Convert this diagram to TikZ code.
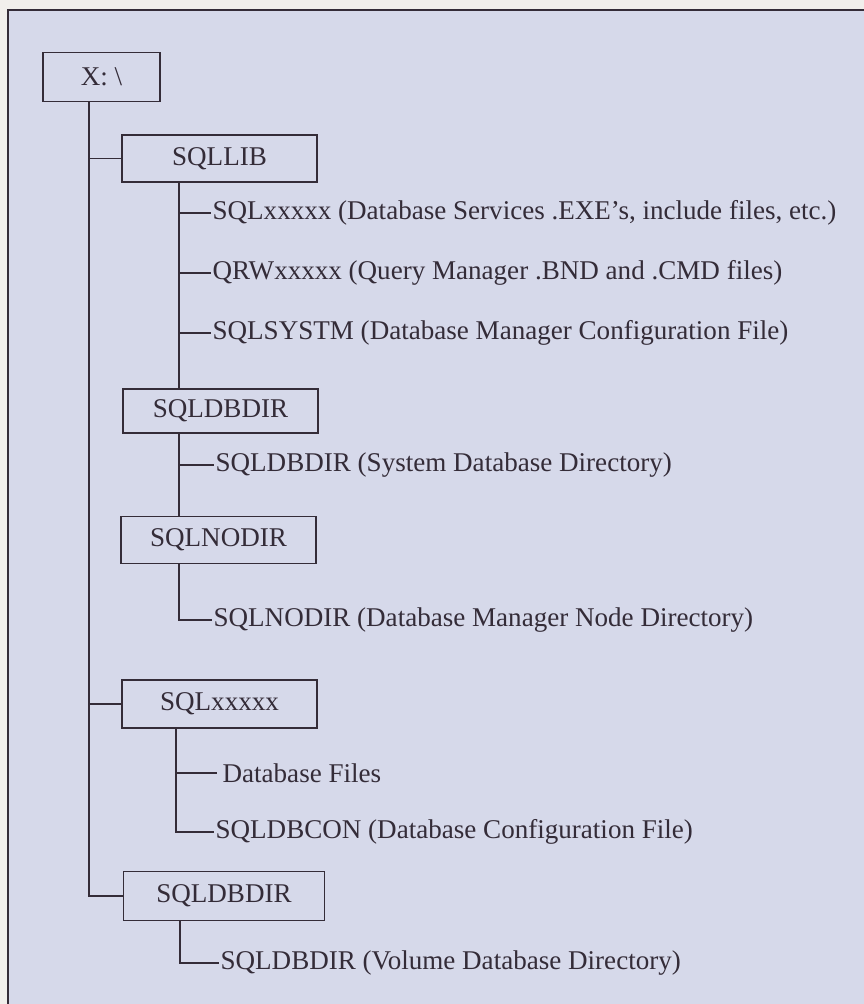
\documentclass[tikz,border=0pt]{standalone}
\usepackage{fontspec}
\setmainfont{Liberation Serif}
\usetikzlibrary{positioning,calc}

\definecolor{paper}{RGB}{241,239,236}
\definecolor{panel}{RGB}{214,217,234}
\definecolor{ink}{RGB}{52,44,56}

\begin{document}
\begin{tikzpicture}[x=0.75pt, y=-0.75pt,
    dirbox/.style={draw=ink, line width=1.1pt, minimum width=146pt, minimum height=35pt,
        inner sep=0pt, text=ink, font=\fontsize{20.3}{24}\selectfont},
    leaf/.style={anchor=west, inner sep=1pt, text=ink, font=\fontsize{20.3}{24}\selectfont},
    tree/.style={draw=ink, line width=1.4pt}]

    \useasboundingbox (0,0) rectangle (864,1004);
    \fill[paper] (0,0) rectangle (864,1004);
    \fill[panel] (8,10) rectangle (864,1004);
    \draw[ink, line width=1.2pt] (8,1004) -- (8,10) -- (864,10);

    % Drive and directories
    \node[dirbox, minimum width=88pt, minimum height=37pt] (root) at (101.5,77) {X:\ \textbackslash};
    \node[dirbox] (sqllib) at (219.5,158.5) {SQLLIB};
    \node[dirbox, minimum height=33pt] (dbdir) at (220.5,411) {SQLDBDIR};
    \node[dirbox] (nodir) at (218.5,540) {SQLNODIR};
    \node[dirbox, minimum height=36pt] (sqlx) at (219.5,704) {SQLxxxxx};
    \node[dirbox, minimum width=151pt, minimum height=37pt] (voldir) at (224,896) {SQLDBDIR};

    % SQLLIB contents
    \node[leaf] (exe) at (211,213) {SQLxxxxx (Database Services .EXE's, include files, etc.)};
    \node[leaf] (qrw) at (211,273) {QRWxxxxx (Query Manager .BND and .CMD files)};
    \node[leaf] (systm) at (211,333) {SQLSYSTM (Database Manager Configuration File)};
    \node[leaf] (sysdir) at (214,465) {SQLDBDIR (System Database Directory)};
    \node[leaf] (nodefile) at (212,620) {SQLNODIR (Database Manager Node Directory)};

    % Database directory contents
    \node[leaf] (dbfiles) at (221,773) {Database Files};
    \node[leaf] (dbcon) at (214,832) {SQLDBCON (Database Configuration File)};
    \node[leaf] (volfile) at (219,963) {SQLDBDIR (Volume Database Directory)};

    % Main trunk
    \coordinate (trunk) at ($(root.south)+(-12.5,0)$);
    \draw[tree] (trunk) |- (voldir.west);
    \draw[tree] (trunk |- sqllib.west) -- (sqllib.west);
    \draw[tree] (trunk |- sqlx.west) -- (sqlx.west);

    % SQLLIB trunk
    \coordinate (libtrunk) at ($(sqllib.south)+(-40.5,0)$);
    \draw[tree] (libtrunk) -- (libtrunk |- dbdir.north);
    \draw[tree] (libtrunk |- dbdir.south) -- (libtrunk |- nodir.north);
    \draw[tree] (libtrunk |- nodir.south) |- (nodefile.west);
    \draw[tree] (libtrunk |- exe.west) -- (exe.west);
    \draw[tree] (libtrunk |- qrw.west) -- (qrw.west);
    \draw[tree] (libtrunk |- systm.west) -- (systm.west);
    \draw[tree] (libtrunk |- sysdir.west) -- (sysdir.west);

    % SQLxxxxx trunk
    \coordinate (xtrunk) at ($(sqlx.south)+(-43.5,0)$);
    \draw[tree] (xtrunk) |- (dbcon.west);
    \draw[tree, shorten >=3pt] (xtrunk |- dbfiles.west) -- (dbfiles.west);

    % Volume directory trunk
    \coordinate (voltrunk) at ($(voldir.south)+(-44,0)$);
    \draw[tree] (voltrunk) |- (volfile.west);
\end{tikzpicture}
\end{document}
